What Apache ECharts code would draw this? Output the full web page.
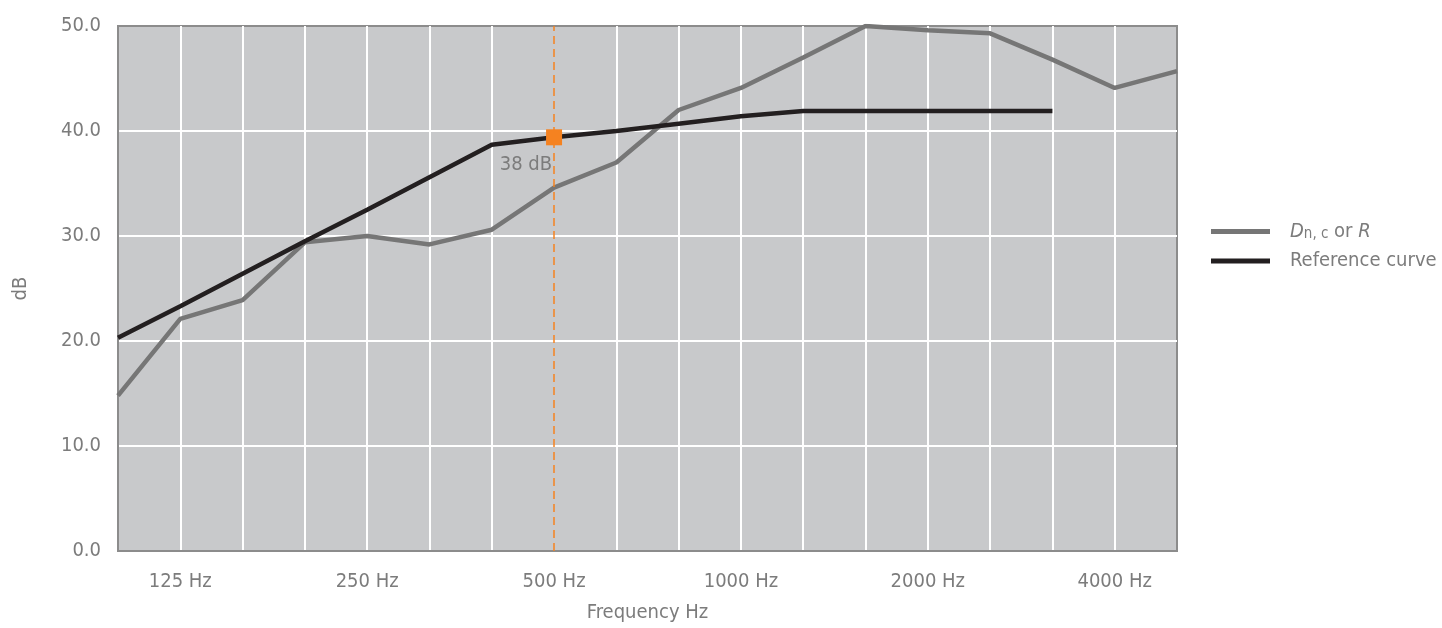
<!DOCTYPE html>
<html>
<head>
<meta charset="utf-8">
<script src="https://cdn.jsdelivr.net/npm/echarts@6/dist/echarts.min.js"></script>
<style>
html,body{margin:0;padding:0;background:#fff;}
#chart{width:1442px;height:628px;}
</style>
</head>
<body>
<div id="chart"></div>
<script>
// Third-octave band centre frequencies (Hz)
const frequencies = ['100','125','160','200','250','315','400','500','630','800','1000','1250','1600','2000','2500','3150','4000','5000'];
// Frequencies that carry a tick label
const labelledFrequencies = ['125','250','500','1000','2000','4000'];
// Measured D n,c or R (dB)
const measuredValues = [14.8, 22.1, 23.9, 29.4, 30.0, 29.2, 30.6, 34.6, 37.0, 42.0, 44.1, 47.0, 50.0, 49.6, 49.3, 46.8, 44.1, 45.7];
// Shifted reference curve (dB)
const referenceValues = [20.3, 23.3, 26.4, 29.5, 32.5, 35.6, 38.7, 39.4, 40.0, 40.7, 41.4, 41.9, 41.9, 41.9, 41.9, 41.9, null, null];
// Y-axis tick settings
const yMin = 0, yMax = 50, yStep = 10;
// Single-number rating marker
const ratingFrequency = '500';
const ratingMarkerValue = 39.4;
const ratingLabel = '38 dB';

const FONT = "'Liberation Sans Narrow', 'DejaVu Sans Condensed', Roboto, sans-serif";
const TXT = '#7c7c7c';
const ORANGE = '#f58220';
const FS = 20;

const chart = echarts.init(document.getElementById('chart'), null, {renderer: 'canvas'});
chart.setOption({
  animation: false,
  textStyle: {fontFamily: FONT},
  grid: {
    left: 118, right: 265, top: 26, bottom: 73,
    show: true, backgroundColor: '#c8c9cb', borderColor: '#8c8c8c', borderWidth: 2
  },
  legend: {
    orient: 'vertical',
    left: 1211, top: 220,
    padding: 0,
    itemWidth: 59, itemHeight: 5,
    itemGap: 9,
    icon: 'rect',
    data: ['Dn,c or R', 'Reference curve'],
    formatter: function (name) {
      if (name === 'Dn,c or R') return '{i|D}{s|n, c}{t| or }{i|R}';
      return '{t|' + name + '}';
    },
    textStyle: {
      fontFamily: FONT, fontSize: FS, color: TXT, padding: [0, 0, 0, 15],
      rich: {
        i: {fontFamily: FONT, fontSize: FS, color: TXT, fontStyle: 'italic', lineHeight: 21},
        s: {fontFamily: FONT, fontSize: 15, color: TXT, verticalAlign: 'bottom', padding: [7, 0, 0, 0], lineHeight: 21},
        t: {fontFamily: FONT, fontSize: FS, color: TXT, lineHeight: 21}
      }
    }
  },
  xAxis: {
    type: 'category',
    data: frequencies,
    boundaryGap: false,
    name: 'Frequency Hz',
    nameLocation: 'middle',
    nameGap: 52,
    nameTextStyle: {fontFamily: FONT, fontSize: FS, color: TXT},
    axisLine: {show: true, lineStyle: {color: '#8c8c8c', width: 2}},
    axisTick: {show: false},
    axisLabel: {
      interval: function (i, v) { return labelledFrequencies.indexOf(v) >= 0; },
      formatter: function (v) { return v + ' Hz'; },
      fontFamily: FONT, fontSize: FS, color: TXT, margin: 21
    },
    splitLine: {
      show: true,
      interval: function (i, v) { return v !== ratingFrequency; },
      showMinLine: false, showMaxLine: false,
      lineStyle: {color: '#ffffff', width: 2}
    }
  },
  yAxis: {
    type: 'value',
    min: yMin, max: yMax, interval: yStep,
    name: 'dB',
    nameLocation: 'middle',
    nameGap: 87,
    nameTextStyle: {fontFamily: FONT, fontSize: FS, color: TXT},
    axisLine: {show: true, lineStyle: {color: '#8c8c8c', width: 2}},
    axisTick: {show: false},
    axisLabel: {
      formatter: function (v) { return v.toFixed(1); },
      fontFamily: FONT, fontSize: FS, color: TXT, margin: 17
    },
    splitLine: {show: true, showMinLine: false, showMaxLine: false, lineStyle: {color: '#ffffff', width: 2}}
  },
  series: [
    {
      name: 'Dn,c or R',
      type: 'line',
      data: measuredValues,
      symbol: 'none',
      lineStyle: {color: '#767676', width: 4.5},
      itemStyle: {color: '#767676'},
      z: 3
    },
    {
      name: 'Reference curve',
      type: 'line',
      data: referenceValues,
      symbol: 'none',
      connectNulls: false,
      lineStyle: {color: '#231f20', width: 4.5},
      itemStyle: {color: '#231f20'},
      z: 4,
      markLine: {
        silent: true,
        symbol: 'none',
        label: {show: false},
        lineStyle: {color: ORANGE, type: [8, 5], width: 1.5, opacity: 1},
        data: [{xAxis: ratingFrequency}]
      }
    },
    {
      name: 'rating',
      type: 'scatter',
      data: [[ratingFrequency, ratingMarkerValue]],
      symbol: 'rect',
      symbolSize: 16,
      itemStyle: {color: ORANGE, opacity: 1},
      z: 5,
      label: {
        show: true,
        formatter: ratingLabel,
        position: [6, 35],
        align: 'right',
        verticalAlign: 'middle',
        fontFamily: FONT, fontSize: FS, color: TXT
      }
    }
  ]
});
</script>
</body>
</html>
